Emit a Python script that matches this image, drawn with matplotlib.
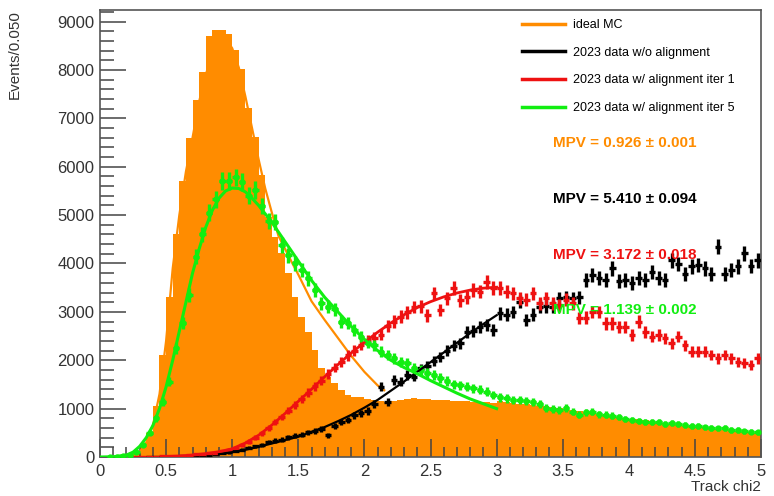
import numpy as np
import matplotlib
matplotlib.use("Agg")
import matplotlib.pyplot as plt
from matplotlib.lines import Line2D
from matplotlib.ticker import MultipleLocator

plt.rcParams['font.family'] = ['Liberation Sans', 'DejaVu Sans']

# binning: 100 bins of 0.05 from 0 to 5
bin_edges = np.linspace(0, 5, 101)

mc_counts = [
    0, 0, 0, 5, 20, 80, 200, 500, 1050, 2100,
    3300, 4600, 5700, 6600, 7380, 7950, 8700, 8820, 8820, 8740,
    8410, 8030, 7220, 6620, 5830, 4960, 4550, 4210, 3800, 3310,
    2900, 2590, 2210, 1840, 1660, 1530, 1380, 1280, 1250, 1230,
    1200, 1170, 1150, 1140, 1160, 1180, 1200, 1210, 1200, 1190,
    1180, 1180, 1170, 1160, 1150, 1150, 1140, 1130, 1140, 1120,
    1150, 1130, 1120, 1100, 1090, 1080, 1060, 1050, 1040, 1020,
    1000, 980, 960, 940, 920, 890, 870, 850, 830, 810,
    790, 780, 760, 740, 720, 700, 690, 670, 650, 640,
    620, 610, 590, 580, 560, 550, 530, 520, 510, 500]

black_counts = [
    0, 0, 0, 0, 0, 0, 0, 1, 2, 3,
    5, 8, 12, 18, 25, 35, 45, 60, 75, 95,
    120, 150, 190, 220, 250, 310, 340, 360, 410, 440,
    460, 510, 540, 580, 450, 650, 720, 760, 860, 900,
    950, 1100, 1450, 1140, 1590, 1560, 1700, 1660, 1830, 1880,
    1980, 2070, 2200, 2300, 2350, 2590, 2600, 2690, 2720, 2620,
    2970, 2940, 3000, 3210, 2830, 2940, 3110, 3120, 3110, 3280,
    3300, 3280, 3300, 3660, 3760, 3700, 3660, 3900, 3640, 3660,
    3600, 3700, 3660, 3830, 3700, 3660, 4070, 3990, 3790, 3940,
    3970, 3900, 3790, 4350, 3790, 3860, 3940, 4210, 3950, 4070]

red_counts = [
    0, 0, 0, 0, 1, 2, 3, 5, 8, 12,
    16, 22, 30, 40, 52, 65, 75, 90, 115, 150,
    195, 250, 320, 400, 490, 600, 720, 830, 960, 1080,
    1200, 1330, 1460, 1580, 1720, 1850, 1960, 2100, 2200, 2320,
    2410, 2460, 2530, 2700, 2800, 2900, 2990, 3100, 3120, 2930,
    3380, 3040, 3280, 3490, 3240, 3300, 3450, 3420, 3620, 3490,
    3490, 3420, 3380, 3280, 3250, 3380, 3180, 3280, 3180, 3140,
    3250, 3180, 2870, 2880, 3000, 3000, 2760, 2760, 2690, 2690,
    2520, 2800, 2580, 2490, 2520, 2450, 2350, 2490, 2310, 2180,
    2180, 2180, 2110, 2040, 2110, 2040, 1970, 1940, 1900, 2040]

green_counts = [
    0, 2, 8, 20, 50, 110, 250, 500, 800, 1140,
    1560, 2250, 2770, 3350, 4140, 4600, 5050, 5330, 5710, 5710,
    5780, 5680, 5400, 5520, 5190, 4880, 4850, 4380, 4170, 4000,
    3860, 3690, 3450, 3180, 3110, 3050, 2800, 2770, 2620, 2490,
    2360, 2310, 2180, 2110, 2040, 1970, 1940, 1840, 1790, 1730,
    1690, 1630, 1570, 1500, 1480, 1450, 1420, 1390, 1350, 1280,
    1230, 1210, 1180, 1170, 1150, 1140, 1090, 1010, 990, 970,
    1010, 940, 870, 920, 940, 880, 870, 850, 830, 790,
    760, 750, 730, 730, 720, 690, 700, 690, 670, 650,
    640, 610, 600, 590, 600, 560, 560, 530, 520, 510]

# fitted curves
mc_fit_x = [0.30, 0.35, 0.40, 0.45, 0.50, 0.55, 0.60, 0.65, 0.70, 0.75, 0.80,
            0.85, 0.90, 0.95, 1.00, 1.05, 1.10, 1.15, 1.20, 1.25, 1.30, 1.35,
            1.40, 1.45, 1.50, 1.60, 1.70, 1.80, 1.90, 2.00, 2.10, 2.15]
mc_fit_y = [100, 300, 650, 1300, 2400, 3900, 5000, 5900, 6600, 7350, 7900,
            8350, 8620, 8650, 8450, 8050, 7450, 6800, 6150, 5550, 5050, 4570,
            4300, 4030, 3770, 3220, 2830, 2460, 2090, 1760, 1480, 1380]

green_fit_x = [0.0, 0.1, 0.2, 0.25, 0.3, 0.35, 0.4, 0.45, 0.5, 0.55, 0.6, 0.65,
               0.7, 0.75, 0.8, 0.85, 0.9, 0.95, 1.0, 1.05, 1.1, 1.15, 1.2, 1.3,
               1.4, 1.5, 1.6, 1.7, 1.8, 1.9, 2.0, 2.1, 2.2, 2.3, 2.4, 2.5, 2.6,
               2.7, 2.8, 2.9, 3.0]
green_fit_y = [0, 5, 40, 100, 220, 400, 650, 1000, 1450, 2000, 2600, 3200,
               3800, 4300, 4750, 5100, 5350, 5500, 5560, 5550, 5480, 5350, 5200, 4850,
               4450, 4050, 3650, 3300, 3000, 2700, 2430, 2200, 2000, 1850, 1720, 1580, 1450,
               1320, 1200, 1100, 1000]

red_fit_x = [0.5, 0.6, 0.7, 0.8, 0.9, 1.0, 1.1, 1.2, 1.3, 1.4, 1.5, 1.6, 1.7,
             1.8, 1.9, 2.0, 2.1, 2.2, 2.3, 2.4, 2.5, 2.6, 2.7, 2.8, 2.9, 3.0]
red_fit_y = [10, 20, 40, 70, 110, 170, 290, 450, 660, 900, 1150, 1400, 1660,
             1910, 2150, 2370, 2580, 2770, 2940, 3090, 3210, 3310, 3390, 3450, 3490, 3510]

black_fit_x = [0.9, 1.0, 1.1, 1.2, 1.3, 1.4, 1.5, 1.6, 1.7, 1.8, 1.9, 2.0, 2.1,
               2.2, 2.3, 2.4, 2.5, 2.6, 2.7, 2.8, 2.9, 3.0]
black_fit_y = [60, 100, 150, 210, 280, 350, 420, 520, 620, 740, 870, 1020, 1180,
               1370, 1560, 1760, 1960, 2160, 2360, 2560, 2750, 2930]

labels = ["ideal MC", "2023 data w/o alignment",
          "2023 data w/ alignment iter 1", "2023 data w/ alignment iter 5"]
mpv_texts = ["MPV = 0.926 \u00b1 0.001", "MPV = 5.410 \u00b1 0.094",
             "MPV = 3.172 \u00b1 0.018", "MPV = 1.139 \u00b1 0.002"]

c_orange = '#ff8c00'
c_black = '#000000'
c_red = '#ee1111'
c_green = '#11ee11'

fig = plt.figure(figsize=(7.74, 4.96), dpi=100)
ax = fig.add_axes([100 / 774, 1 - 457 / 496, 661 / 774, 447 / 496])

# filled MC histogram as one step polygon
ax.fill_between(bin_edges, np.append(mc_counts, mc_counts[-1]), step='post',
                color=c_orange, lw=0, antialiased=False, zorder=1)
ax.plot(mc_fit_x, mc_fit_y, color=c_orange, lw=1.6, zorder=2)

centers = 0.5 * (bin_edges[1:] + bin_edges[:-1])


def draw_points(counts, color, marker=None):
    counts = np.array(counts, dtype=float)
    keep = counts > 0
    ax.errorbar(centers[keep], counts[keep], xerr=0.025,
                yerr=2.4 * np.sqrt(counts[keep]),
                fmt=marker if marker else 'none', color=color, ms=3.5,
                elinewidth=2.4, capsize=0, zorder=3)


draw_points(black_counts, c_black)
draw_points(red_counts, c_red)
draw_points(green_counts, c_green, marker='o')

ax.plot(black_fit_x, black_fit_y, color=c_black, lw=1.6, zorder=4)
ax.plot(red_fit_x, red_fit_y, color=c_red, lw=2.0, zorder=4)
ax.plot(green_fit_x, green_fit_y, color=c_green, lw=2.2, zorder=4)

ax.set_xlim(0, 5)
ax.set_ylim(0, 9240)
ax.xaxis.set_major_locator(MultipleLocator(0.5))
ax.xaxis.set_minor_locator(MultipleLocator(0.1))
ax.yaxis.set_major_locator(MultipleLocator(1000))
ax.yaxis.set_minor_locator(MultipleLocator(200))
ax.xaxis.set_major_formatter(plt.FuncFormatter(lambda v, p: '%g' % v))
ax.tick_params(axis='y', which='major', direction='in', length=19, width=1.1,
               color='#444444', labelsize=12, labelcolor='#333333', pad=4,
               right=False)
ax.tick_params(axis='y', which='minor', direction='in', length=10, width=1.1,
               color='#444444', right=False)
ax.tick_params(axis='x', which='major', direction='in', length=13, width=1.1,
               color='#444444', labelsize=12, labelcolor='#333333', pad=5,
               top=False)
ax.tick_params(axis='x', which='minor', direction='in', length=7, width=1.1,
               color='#444444', top=False)
for s in ax.spines.values():
    s.set_color('#555555')
    s.set_linewidth(1.2)

fig.text(15 / 774, 1 - 10 / 496, "Events/0.050", rotation=90, ha='center',
         va='top', fontsize=11, color='#333333')
fig.text(761 / 774, 1 - 487 / 496, "Track chi2", ha='right', va='center',
         fontsize=11, color='#333333')

handles = [Line2D([], [], color=c, lw=2.5)
           for c in (c_orange, c_black, c_red, c_green)]
ax.legend(handles, labels, loc='upper left',
          bbox_to_anchor=(522 / 774, 1 - 19 / 496),
          bbox_transform=fig.transFigure, frameon=False, fontsize=9,
          handlelength=3.4, handletextpad=0.7, labelspacing=1.25,
          borderpad=0, borderaxespad=0)

for txt, c, ypx in zip(mpv_texts, (c_orange, c_black, c_red, c_green),
                       (143, 199, 255, 310)):
    fig.text(553 / 774, 1 - ypx / 496, txt, ha='left', va='center',
             fontsize=11, fontweight='bold', color=c, zorder=5)

fig.savefig("out.png", dpi=100)
